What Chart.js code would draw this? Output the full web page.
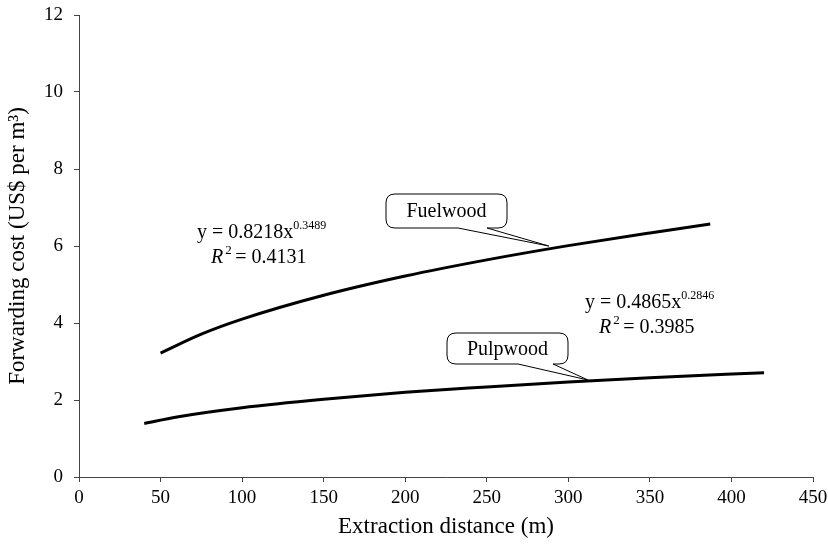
<!DOCTYPE html>
<html>
<head>
<meta charset="utf-8">
<script src="https://cdn.jsdelivr.net/npm/chart.js@4"></script>
<style>
  html, body { margin: 0; padding: 0; background: #fff; }
  #wrap { width: 828px; height: 545px; }
</style>
</head>
<body>
<div id="wrap"><canvas id="chart" width="828" height="545"></canvas></div>
<script>
// values
const fuelX = [50, 75, 100, 150, 200, 250, 300, 350, 387];
const fuelY = [3.22, 3.71, 4.10, 4.72, 5.22, 5.64, 6.01, 6.34, 6.57];
const pulpX = [40, 60, 100, 150, 200, 250, 300, 350, 420];
const pulpY = [1.39, 1.56, 1.80, 2.02, 2.20, 2.34, 2.47, 2.58, 2.71];
const xTicks = [0, 50, 100, 150, 200, 250, 300, 350, 400, 450];
const yTicks = [0, 2, 4, 6, 8, 10, 12];

const FONT = "'Liberation Serif', 'Times New Roman', serif";

function toPoints(xs, ys) {
  return xs.map((x, i) => ({ x: x, y: ys[i] }));
}

// callouts and equation labels
const callouts = [
  { text: "Fuelwood", tip: [288, 6.0], box: [386, 194, 121, 34], base: [458, 487] },
  { text: "Pulpwood", tip: [312, 2.52], box: [447, 333, 121, 31], base: [518, 553] },
];
const equations = [
  { coef: "y = 0.8218x", exp: "0.3489", r2: " = 0.4131", x: 197, y: 238 },
  { coef: "y = 0.4865x", exp: "0.2846", r2: " = 0.3985", x: 585, y: 308 },
];

const annotate = {
  id: "annotate",
  afterDatasetsDraw(chart) {
    const c = chart.ctx;
    const xs = chart.scales.x, ys = chart.scales.y;
    c.save();
    c.strokeStyle = "#000";
    c.fillStyle = "#000";
    c.lineWidth = 1;
    callouts.forEach((co) => {
      const [bx, by, bw, bh] = co.box;
      const tx = xs.getPixelForValue(co.tip[0]);
      const ty = ys.getPixelForValue(co.tip[1]);
      const r = 9;
      c.beginPath();
      c.moveTo(bx + r, by);
      c.lineTo(bx + bw - r, by);
      c.quadraticCurveTo(bx + bw, by, bx + bw, by + r);
      c.lineTo(bx + bw, by + bh - r);
      c.quadraticCurveTo(bx + bw, by + bh, bx + bw - r, by + bh);
      c.lineTo(co.base[1], by + bh);
      c.lineTo(tx, ty);
      c.lineTo(co.base[0], by + bh);
      c.lineTo(bx + r, by + bh);
      c.quadraticCurveTo(bx, by + bh, bx, by + bh - r);
      c.lineTo(bx, by + r);
      c.quadraticCurveTo(bx, by, bx + r, by);
      c.closePath();
      c.fillStyle = "#fff";
      c.fill();
      c.stroke();
      c.fillStyle = "#000";
      c.font = "20px " + FONT;
      c.textAlign = "center";
      c.textBaseline = "middle";
      c.fillText(co.text, bx + bw / 2, by + bh / 2 + 1);
    });
    equations.forEach((eq) => {
      c.textAlign = "left";
      c.textBaseline = "alphabetic";
      c.font = "20px " + FONT;
      c.fillText(eq.coef, eq.x, eq.y);
      const w = c.measureText(eq.coef).width;
      c.font = "12px " + FONT;
      c.fillText(eq.exp, eq.x + w, eq.y - 9);
      // second line: italic R, superscript 2
      const lx = eq.x + 14;
      const ly = eq.y + 25;
      c.font = "italic 20px " + FONT;
      c.fillText("R", lx, ly);
      const rw = c.measureText("R").width;
      c.font = "13px " + FONT;
      c.fillText("2", lx + rw + 2, ly - 9);
      c.font = "20px " + FONT;
      c.fillText(eq.r2, lx + rw + 7, ly);
    });
    c.restore();
  },
};

const ctx = document.getElementById("chart").getContext("2d");
const chart = new Chart(ctx, {
  type: "scatter",
  data: {
    datasets: [
      {
        label: "Fuelwood",
        data: toPoints(fuelX, fuelY),
        showLine: true,
        borderColor: "#000",
        borderWidth: 3,
        pointRadius: 0,
        cubicInterpolationMode: "monotone",
      },
      {
        label: "Pulpwood",
        data: toPoints(pulpX, pulpY),
        showLine: true,
        borderColor: "#000",
        borderWidth: 3,
        pointRadius: 0,
        cubicInterpolationMode: "monotone",
      },
    ],
  },
  options: {
    responsive: false,
    animation: false,
    layout: { padding: { top: 15, right: 15, left: 0, bottom: 0 } },
    plugins: { legend: { display: false }, tooltip: { enabled: false } },
    scales: {
      x: {
        type: "linear",
        min: 0,
        max: 450,
        afterBuildTicks: (s) => { s.ticks = xTicks.map((v) => ({ value: v })); },
        afterFit: (s) => {
          s.height = 68;
          s.paddingLeft = 0;
          s.paddingRight = 0;
        },
        grid: { display: true, drawOnChartArea: false, drawTicks: true, tickLength: 5, color: "#444" },
        border: { color: "#444", width: 1 },
        ticks: { color: "#000", font: { family: FONT, size: 19 }, padding: 5, maxRotation: 0 },
        title: { display: true, text: "Extraction distance (m)", color: "#000", font: { family: FONT, size: 23 }, padding: { top: 3 } },
      },
      y: {
        min: 0,
        max: 12,
        afterBuildTicks: (s) => { s.ticks = yTicks.map((v) => ({ value: v })); },
        afterFit: (s) => {
          s.width = 79;
          s.paddingTop = 0;
          s.paddingBottom = 0;
        },
        grid: { display: true, drawOnChartArea: false, drawTicks: true, tickLength: 5, color: "#444" },
        border: { color: "#444", width: 1 },
        ticks: { color: "#000", font: { family: FONT, size: 19 }, padding: 11 },
        title: { display: true, text: "Forwarding cost (US$ per m³)", color: "#000", font: { family: FONT, size: 23 }, padding: { bottom: 0 } },
      },
    },
  },
  plugins: [annotate],
});
</script>
</body>
</html>
